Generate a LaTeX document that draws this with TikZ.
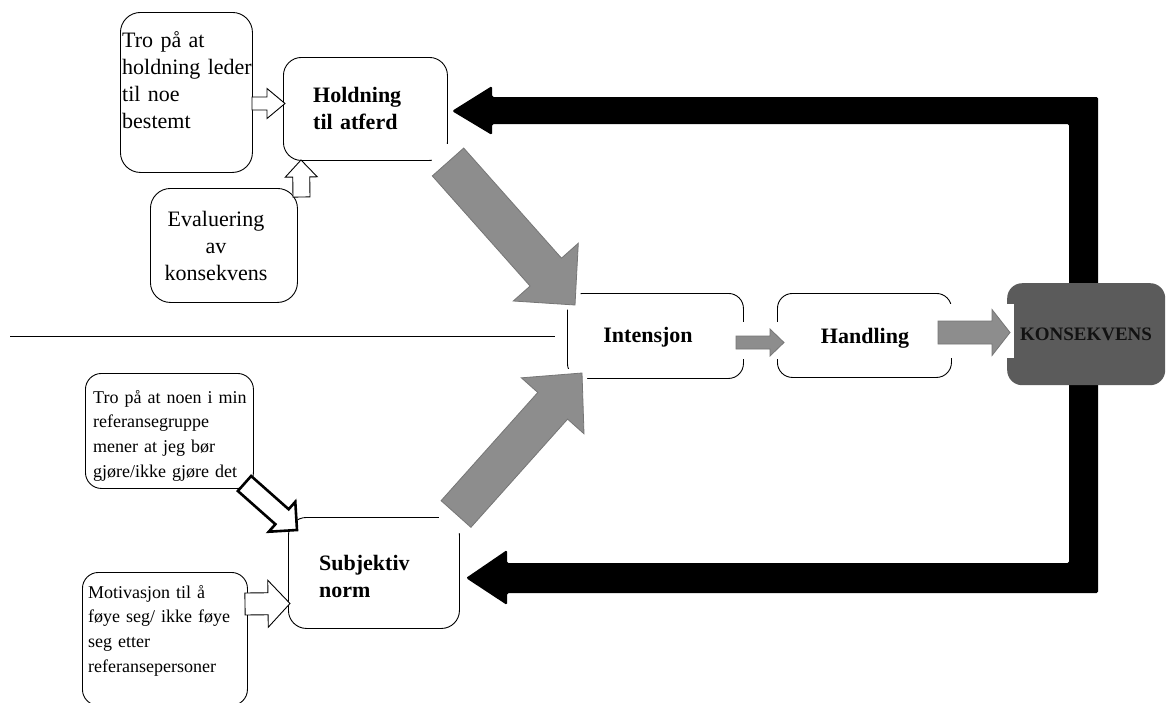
\documentclass[tikz,border=0pt]{standalone}
\usepackage{fontspec}
\setmainfont{Liberation Serif}
\usetikzlibrary{calc}
\definecolor{arrowgray}{RGB}{141,141,141}
\definecolor{arrowedge}{RGB}{118,118,118}
\definecolor{konsgray}{RGB}{91,91,91}
\definecolor{konstext}{RGB}{18,18,18}
% block arrow: [options]{start}{tip}{shaft half width}{head half width}{head length}
\newcommand{\bkarrow}[6][]{%
  \coordinate (bkH) at ($(#3)!#6pt!(#2)$);
  \path[#1] ($(#2)!#4pt!90:(#3)$) -- ($(bkH)!#4pt!90:(#3)$) -- ($(bkH)!#5pt!90:(#3)$)
    -- (#3) -- ($(bkH)!#5pt!-90:(#3)$) -- ($(bkH)!#4pt!-90:(#3)$) -- ($(#2)!#4pt!-90:(#3)$) -- cycle;
}
\begin{document}
\begin{tikzpicture}[x=1pt,y=-1pt,
  box/.style={draw=black, line width=0.9pt, rounded corners=#1, inner sep=0pt, anchor=north west},
  box/.default=18pt,
  txtbig/.style={inner sep=0pt, anchor=base west, align=left, text width=200pt, font=\fontsize{22}{27}\selectfont},
  txtsmall/.style={inner sep=0pt, anchor=base west, align=left, text width=200pt, font=\fontsize{18}{24.7}\selectfont},
  txtbold/.style={inner sep=0pt, anchor=base west, align=left, text width=200pt, font=\fontsize{22}{27}\selectfont\bfseries},
  garrow/.style={fill=arrowgray, draw=arrowedge, line width=0.8pt},
  gborder/.style={draw=white, line width=10pt, line join=miter},
  harrow/.style={fill=white, draw=black, line width=0.9pt, line join=miter},
  patch/.style={fill=white, draw=none}]
\useasboundingbox (0,0) rectangle (1167,702);
\fill[white] (0,0) rectangle (1167,702);
\clip (0,0) rectangle (1167,702);

% ---------- boxes ----------
\node[box=20pt, minimum width=132pt, minimum height=160pt] (tro1) at (120,12) {};
\node[box=18pt, minimum width=164pt, minimum height=103pt] (hold) at (283,57) {};
\node[box=20pt, minimum width=147pt, minimum height=114pt] (eval) at (150,188) {};
\node[box=16pt, minimum width=168pt, minimum height=115pt] (tro2) at (85,373) {};
\node[box=16pt, minimum width=165pt, minimum height=133pt] (motiv) at (82,572) {};
\node[box=18pt, minimum width=171pt, minimum height=111pt] (subj) at (288,517) {};
\node[box=15pt, minimum width=176pt, minimum height=85pt] (inten) at (567,293) {};
\node[box=15pt, minimum width=174pt, minimum height=84pt] (hand) at (777,293) {};

% ---------- texts ----------
\node[txtbig] (t1) at (122,47) {Tro på at\\holdning leder\\til noe\\bestemt};
\node[txtbig, anchor=base, align=center, text width=150pt] (t2) at (216,226) {Evaluering\\av\\konsekvens};
\node[txtbold] (t3) at (313,102) {Holdning\\til atferd};
\node[txtsmall] (t4) at (93,403) {Tro på at noen i min\\referansegruppe\\mener at jeg bør\\gjøre/ikke gjøre det};
\node[txtsmall] (t5) at (88,598) {Motivasjon til å\\føye seg/ ikke føye\\seg etter\\referansepersoner};
\node[txtbold] (t6) at (319,570) {Subjektiv\\norm};
\node[inner sep=0pt, anchor=base, font=\fontsize{22}{27}\selectfont\bfseries] (t7) at (648,342) {Intensjon};
\node[inner sep=0pt, anchor=base, font=\fontsize{22}{27}\selectfont\bfseries] (t8) at (865,343) {Handling};

% ---------- divider ----------
\coordinate (divL) at (10,336);
\coordinate (divR) at (555,336);
\draw[line width=1pt] (divL) -- (divR);

% ---------- black feedback arrow ----------
\coordinate (fbTop) at (452,111);
\coordinate (fbBot) at (466,578);
\fill[black, rounded corners=1.5pt] (fbTop) -- (492,86) -- (492,97) -- (1098,97) -- (1098,593)
  -- (507,593) -- (507,605) -- (fbBot) -- (507,550) -- (507,563) -- (1069,563) -- (1069,124)
  -- (492,124) -- (492,135) -- cycle;

% ---------- KONSEKVENS ----------
\node[inner sep=0pt, anchor=north west, fill=konsgray, rounded corners=15pt,
  minimum width=158pt, minimum height=102pt] (kons) at (1007,283) {};
\node[inner sep=0pt, anchor=base, text=konstext, font=\fontsize{19}{23}\selectfont\bfseries] (t9) at (1086,340) {KONSEKVENS};

% ---------- white cuts ----------
\fill[patch] (432,144) rectangle (452,166);
\fill[patch] (438.5,510) rectangle (466,533);
\fill[patch] (733,322) rectangle (787,359);
\fill[patch] (935,304) rectangle (1013.5,358);

% ---------- gray arrows ----------
\coordinate (g1s) at (448,162);   \coordinate (g1e) at (575,305);
\coordinate (g2s) at (456,514);   \coordinate (g2e) at (582,373);
\coordinate (g3s) at (736,342.5); \coordinate (g3e) at (784,342.5);
\coordinate (g4s) at (938,332.5); \coordinate (g4e) at (1010,332.5);
\bkarrow[gborder]{g1s}{g1e}{21}{43.5}{44}
\bkarrow[garrow]{g1s}{g1e}{21}{43.5}{44}
\bkarrow[gborder]{g2s}{g2e}{20}{42}{44}
\bkarrow[garrow]{g2s}{g2e}{20}{42}{44}
\bkarrow[garrow]{g3s}{g3e}{6.5}{13.5}{14}
\bkarrow[garrow]{g4s}{g4e}{11.5}{23}{18}

% ---------- hollow arrows ----------
\coordinate (h1s) at (252,103.5); \coordinate (h1e) at (285,103.5);
\coordinate (h2s) at (301.5,197); \coordinate (h2e) at (301,160);
\coordinate (h3s) at (245,604);   \coordinate (h3e) at (290,603.5);
\coordinate (h4s) at (244.5,483.5); \coordinate (h4e) at (297,530);
\bkarrow[harrow]{h1s}{h1e}{6.5}{15}{18}
\bkarrow[harrow]{h2s}{h2e}{8.5}{16}{17}
\bkarrow[harrow]{h3s}{h3e}{11}{23.5}{22}
\bkarrow[harrow, line width=2.6pt]{h4s}{h4e}{10}{20}{20}
\end{tikzpicture}
\end{document}
